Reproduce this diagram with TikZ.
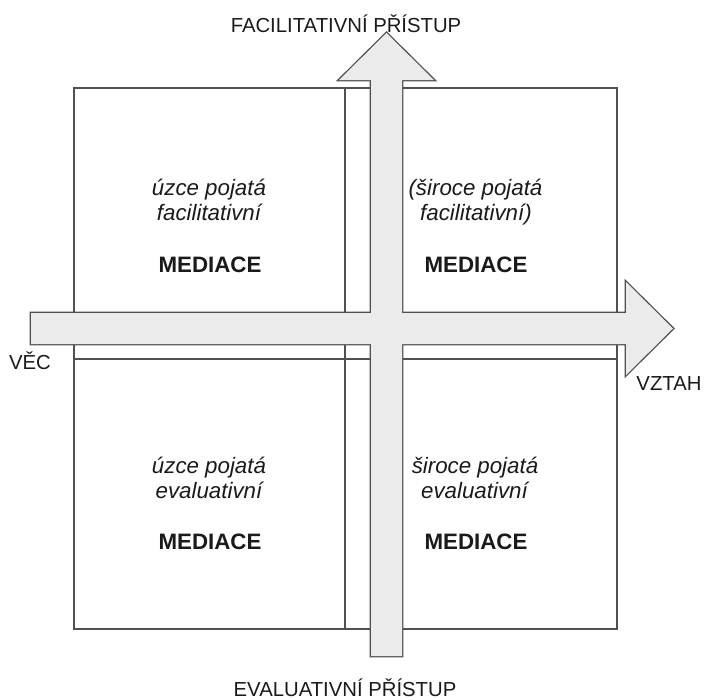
\documentclass[tikz,border=0pt]{standalone}
\usepackage{fontspec}
\setmainfont{Liberation Sans}
\definecolor{linegray}{HTML}{505050}
\definecolor{arrowfill}{HTML}{EBEBEB}
\definecolor{txt}{HTML}{1A1A1A}
\begin{document}
\begin{tikzpicture}[x=1pt,y=-1pt,
  frame/.style={draw=linegray,line width=1.2pt},
  arrowline/.style={draw=linegray,line width=2.6pt,line join=miter},
  arrowbody/.style={fill=arrowfill},
  qtext/.style={inner sep=0pt,anchor=base,text=txt,font=\fontsize{22.3}{26}\selectfont\itshape},
  qbold/.style={inner sep=0pt,anchor=base,text=txt,font=\fontsize{22.3}{26}\selectfont\bfseries},
  label/.style={inner sep=0pt,text=txt,font=\fontsize{20.3}{24}\selectfont},
  labelbase/.style={inner sep=0pt,anchor=base,text=txt,font=\fontsize{20.3}{24}\selectfont}]
\useasboundingbox (0,0) rectangle (704,699);
\fill[white] (0,0) rectangle (704,699);
% quadrants
\draw[frame] (74,88) rectangle (617,629);
\draw[frame] (345,88) -- (345,629);
\draw[frame] (74,359) -- (617,359);
% arrows (outline first, then fill to merge)
\def\harrow{(31,313) -- (626,313) -- (626,282) -- (673,328.5) -- (626,375) -- (626,344) -- (31,344) -- cycle}
\def\varrow{(371,656) -- (371,80) -- (339,80) -- (386.5,33) -- (434,80) -- (402,80) -- (402,656) -- cycle}
\path[arrowline] \harrow;
\path[arrowline] \varrow;
\path[arrowbody] \harrow;
\path[arrowbody] \varrow;
% axis labels
\node[labelbase] (top) at (346,32) {FACILITATIVNÍ PŘÍSTUP};
\node[labelbase] (bottom) at (345,696) {EVALUATIVNÍ PŘÍSTUP};
\node[labelbase] (vec) at (30,369.5) {VĚC};
\node[labelbase] (vztah) at (669,390) {VZTAH};
% quadrant texts
\node[qtext] (q1a) at (209,195) {úzce pojatá};
\node[qtext] (q1b) at (209,220) {facilitativní};
\node[qbold] (q1m) at (210,272) {MEDIACE};
\node[qtext] (q2a) at (475.5,195) {(široce pojatá};
\node[qtext] (q2b) at (476,220) {facilitativní)};
\node[qbold] (q2m) at (476,272) {MEDIACE};
\node[qtext] (q3a) at (209,473) {úzce pojatá};
\node[qtext] (q3b) at (209,498) {evaluativní};
\node[qbold] (q3m) at (210,549) {MEDIACE};
\node[qtext] (q4a) at (475,473) {široce pojatá};
\node[qtext] (q4b) at (474.5,498) {evaluativní};
\node[qbold] (q4m) at (476,549) {MEDIACE};
\end{tikzpicture}
\end{document}
